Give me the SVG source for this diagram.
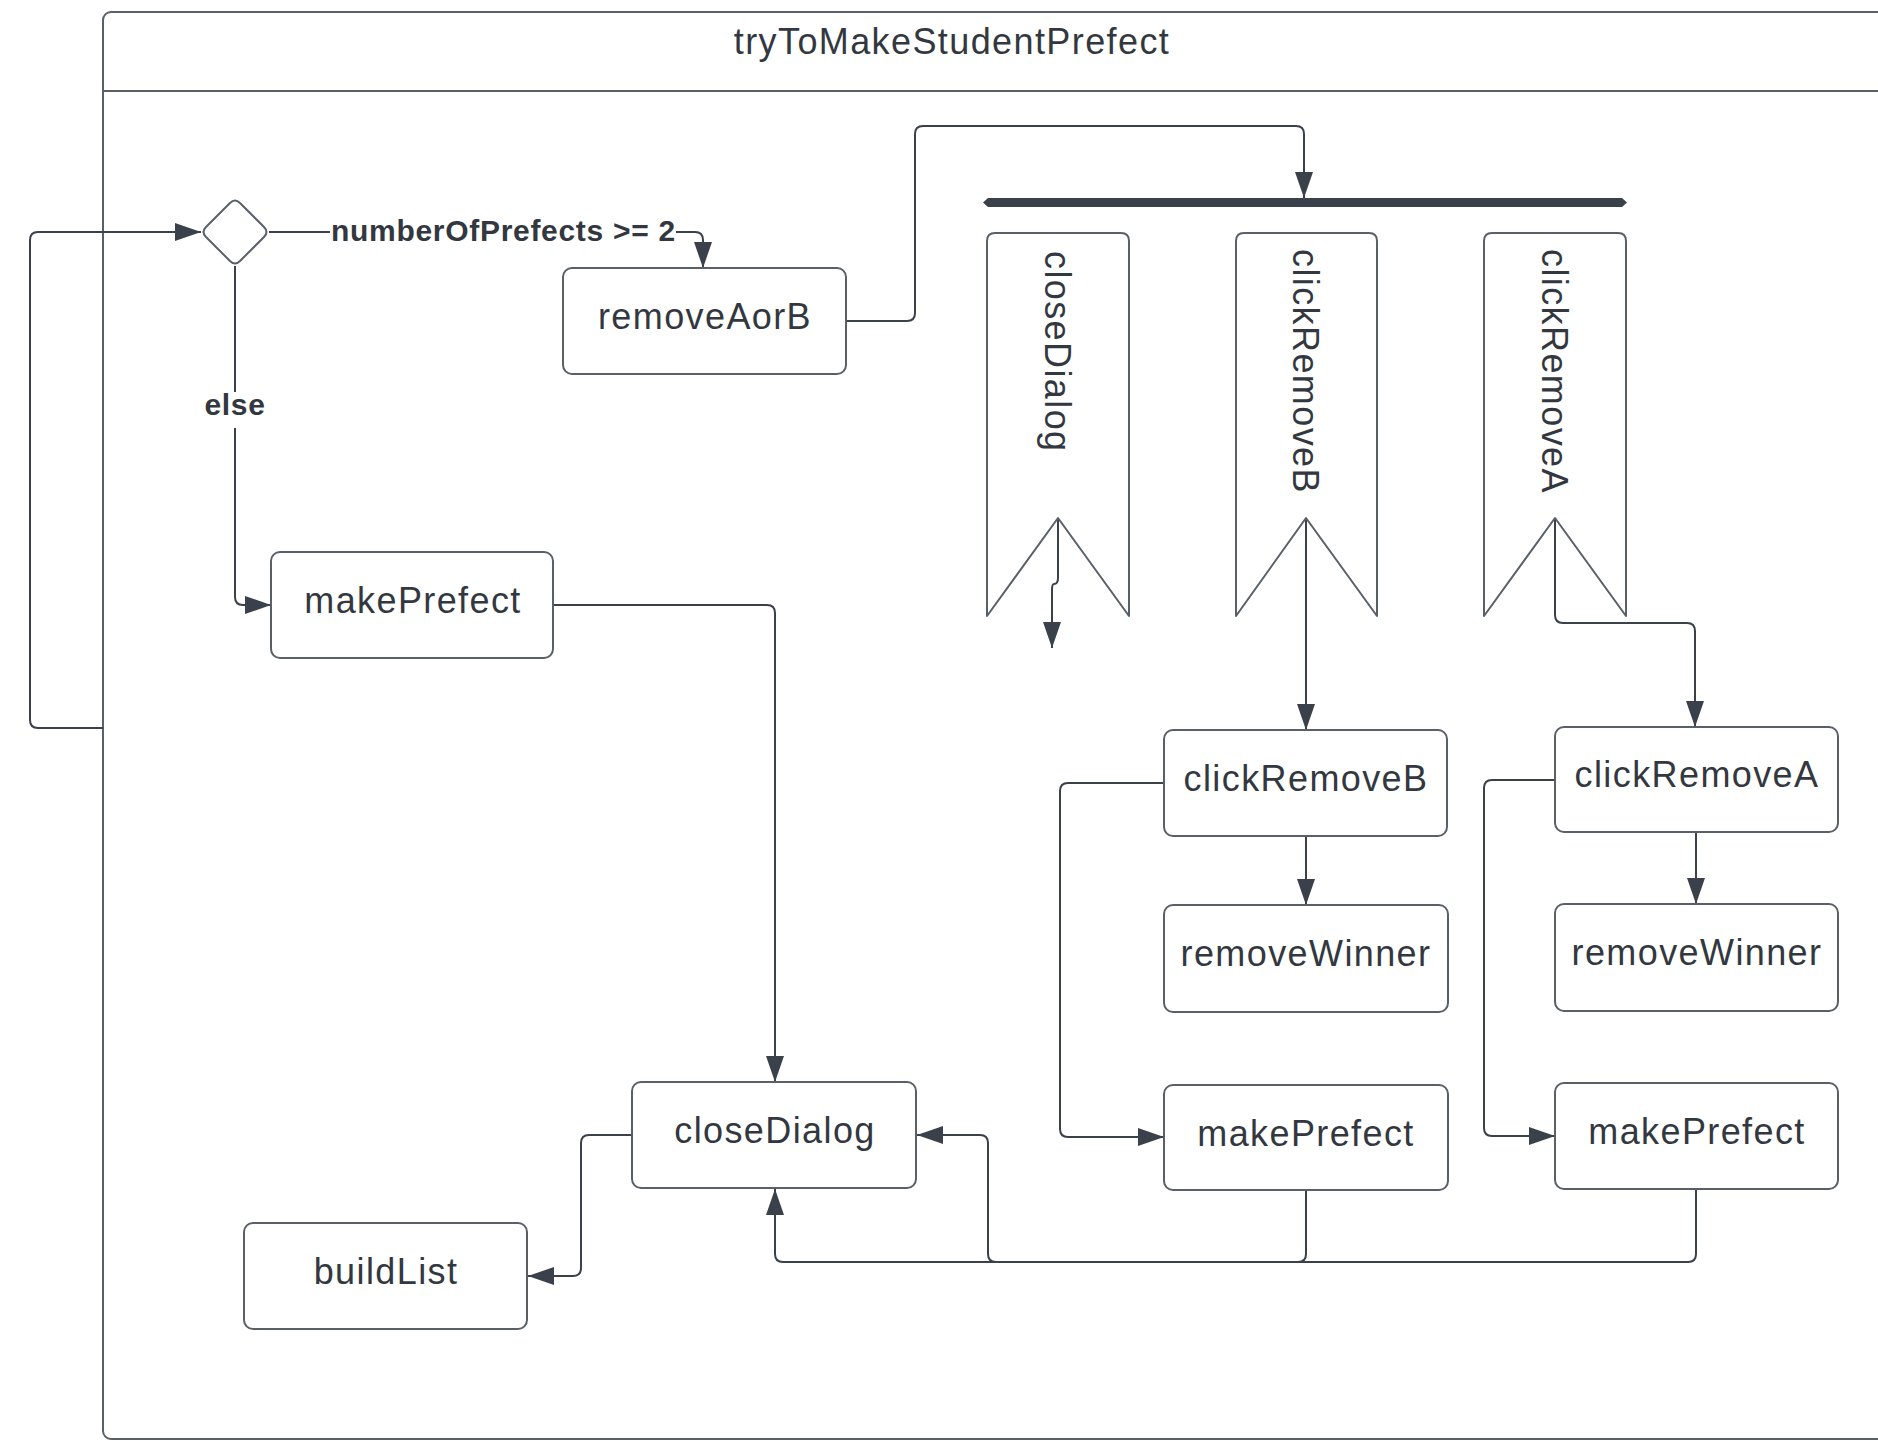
<svg xmlns="http://www.w3.org/2000/svg" width="1878" height="1441" viewBox="0 0 1878 1441">
<style>
.frame{fill:#ffffff;stroke:#5a6068;stroke-width:2}
.box{fill:#ffffff;stroke:#5a6068;stroke-width:2}
.sig{fill:#ffffff;stroke:#5a6068;stroke-width:2;stroke-linejoin:round}
.t{font-family:"Liberation Sans",Arial,sans-serif;font-size:36px;letter-spacing:1.4px;fill:#333840}
.lbl{font-family:"Liberation Sans",Arial,sans-serif;font-size:30px;font-weight:bold;letter-spacing:0.7px;fill:#333840}
.c{fill:none;stroke:#3a414a;stroke-width:2}
.ca{fill:none;stroke:#3a414a;stroke-width:2;marker-end:url(#ah)}
</style>
<defs>
<marker id="ah" markerUnits="userSpaceOnUse" markerWidth="26" markerHeight="18" refX="26" refY="9" orient="auto">
<path d="M0,0 L26,9 L0,18 Z" fill="#3a414a"/>
</marker>
</defs>
<rect width="1878" height="1441" fill="#ffffff"/>
<g id="frame">
<rect class="frame" x="103" y="12" width="1800" height="1427" rx="8"/>
<line x1="103" y1="91" x2="1878" y2="91" stroke="#5a6068" stroke-width="2"/>
<text class="t" x="952" y="54" text-anchor="middle">tryToMakeStudentPrefect</text>
</g>
<g id="connectors">
<path class="ca" d="M103,728 H38 Q30,728 30,720 V240 Q30,232 38,232 H201"/>
<path class="ca" d="M269,232 H330 M676,232 H695 Q703,232 703,240 V268"/>
<path class="ca" d="M235,266 V392 M235,428 V597 Q235,605 243,605 H271"/>
<path class="ca" d="M846,321 H907 Q915,321 915,313 V134 Q915,126 923,126 H1296 Q1304,126 1304,134 V198"/>
<path class="ca" d="M553,605 H767 Q775,605 775,613 V1082"/>
<path class="ca" d="M632,1135 H589 Q581,1135 581,1143 V1268 Q581,1276 573,1276 H528"/>
<path class="ca" d="M1306,1190 V1254 Q1306,1262 1298,1262 H996 Q988,1262 988,1254 V1143 Q988,1135 980,1135 H917"/>
<path class="ca" d="M1696,1189 V1254 Q1696,1262 1688,1262 H783 Q775,1262 775,1254 V1189"/>
<path class="ca" d="M1306,519 V730"/>
<path class="ca" d="M1555,519 V615 Q1555,623 1563,623 H1687 Q1695,623 1695,631 V727"/>
<path class="ca" d="M1058,519 V578 Q1058,584 1054,584 Q1052,584 1052,590 V648"/>
<path class="ca" d="M1306,836 V905"/>
<path class="ca" d="M1696,832 V904"/>
<path class="ca" d="M1164,783 H1068 Q1060,783 1060,791 V1129 Q1060,1137 1068,1137 H1164"/>
<path class="ca" d="M1555,780 H1492 Q1484,780 1484,788 V1128 Q1484,1136 1492,1136 H1555"/>
</g>
<g id="labels">
<text class="lbl" x="331" y="241">numberOfPrefects &gt;= 2</text>
<text class="lbl" x="235" y="415" text-anchor="middle">else</text>
</g>
<g id="decision">
<path class="box" d="M230,203 Q235,198 240,203 L264,227 Q269,232 264,237 L240,261 Q235,266 230,261 L206,237 Q201,232 206,227 Z"/>
</g>
<g id="fork">
<polygon points="988,198 1622,198 1627,202.5 1622,207 988,207 983,202.5" fill="#3a414a"/>
</g>
<g id="removeAorB">
<rect class="box" x="563" y="268" width="283" height="106" rx="9"/>
<text class="t" x="705" y="329" text-anchor="middle">removeAorB</text>
</g>
<g id="makePrefect1">
<rect class="box" x="271" y="552" width="282" height="106" rx="9"/>
<text class="t" x="413" y="613" text-anchor="middle">makePrefect</text>
</g>
<g id="closeDialog">
<rect class="box" x="632" y="1082" width="284" height="106" rx="9"/>
<text class="t" x="775" y="1143" text-anchor="middle">closeDialog</text>
</g>
<g id="buildList">
<rect class="box" x="244" y="1223" width="283" height="106" rx="9"/>
<text class="t" x="386" y="1284" text-anchor="middle">buildList</text>
</g>
<g id="sigCloseDialog">
<path class="sig" d="M987,616 V241 Q987,233 995,233 H1121 Q1129,233 1129,241 V616 L1058,518 Z"/>
<text class="t" transform="translate(1058,251) rotate(90)" x="0" y="13">closeDialog</text>
</g>
<g id="sigClickRemoveB">
<path class="sig" d="M1236,616 V241 Q1236,233 1244,233 H1369 Q1377,233 1377,241 V616 L1306,518 Z"/>
<text class="t" transform="translate(1306,249) rotate(90)" x="0" y="13">clickRemoveB</text>
</g>
<g id="sigClickRemoveA">
<path class="sig" d="M1484,616 V241 Q1484,233 1492,233 H1618 Q1626,233 1626,241 V616 L1555,518 Z"/>
<text class="t" transform="translate(1555,249) rotate(90)" x="0" y="13">clickRemoveA</text>
</g>
<g id="clickRemoveB">
<rect class="box" x="1164" y="730" width="283" height="106" rx="9"/>
<text class="t" x="1306" y="791" text-anchor="middle">clickRemoveB</text>
</g>
<g id="removeWinnerB">
<rect class="box" x="1164" y="905" width="284" height="107" rx="9"/>
<text class="t" x="1306" y="966" text-anchor="middle">removeWinner</text>
</g>
<g id="makePrefectB">
<rect class="box" x="1164" y="1085" width="284" height="105" rx="9"/>
<text class="t" x="1306" y="1146" text-anchor="middle">makePrefect</text>
</g>
<g id="clickRemoveA">
<rect class="box" x="1555" y="727" width="283" height="105" rx="9"/>
<text class="t" x="1697" y="787" text-anchor="middle">clickRemoveA</text>
</g>
<g id="removeWinnerA">
<rect class="box" x="1555" y="904" width="283" height="107" rx="9"/>
<text class="t" x="1697" y="965" text-anchor="middle">removeWinner</text>
</g>
<g id="makePrefectA">
<rect class="box" x="1555" y="1083" width="283" height="106" rx="9"/>
<text class="t" x="1697" y="1144" text-anchor="middle">makePrefect</text>
</g>
</svg>
